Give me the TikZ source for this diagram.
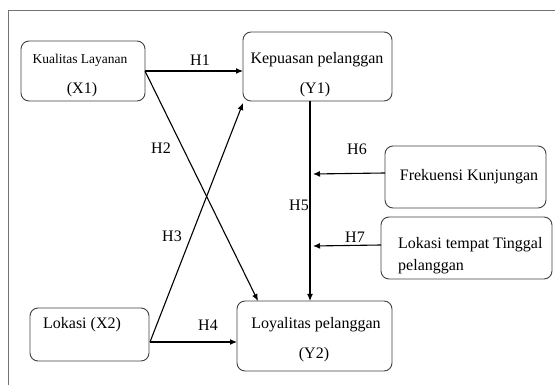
\documentclass[tikz,border=0pt]{standalone}
\usepackage{fontspec}
\setmainfont{Liberation Serif}
\usetikzlibrary{arrows.meta}
\begin{document}
\begin{tikzpicture}[x=1pt,y=-1pt,
  box/.style={draw=black!75,rounded corners=8pt,line width=0.9pt},
  lbl/.style={font=\fontsize{16}{18}\selectfont,inner sep=0pt},
  conn/.style={line width=1.1pt,-{Latex[length=7pt,width=6pt]}},
  hlab/.style={font=\fontsize{16}{18}\selectfont,inner sep=0pt}]
\useasboundingbox (0,0) rectangle (555,387);
\draw[black!55,line width=0.9pt] (555,10) -- (8.5,10) -- (8.5,385);
% boxes
\draw[box] (21,41) rectangle (145,101);
\node[inner sep=0pt,font=\fontsize{13.5}{15}\selectfont] (x1a) at (80,60) {Kualitas Layanan};
\node[lbl] (x1b) at (82,90) {(X1)};
\draw[box] (243,32) rectangle (392,101);
\node[lbl] (y1a) at (317,60) {Kepuasan pelanggan};
\node[lbl] (y1b) at (315,90) {(Y1)};
\draw[box] (385,146) rectangle (546,208);
\node[lbl] (fk) at (469,177) {Frekuensi Kunjungan};
\draw[box] (381,217) rectangle (552,279);
\node[lbl,anchor=west] (lt1) at (398,245) {Lokasi tempat Tinggal};
\node[lbl,anchor=west] (lt2) at (398,267) {pelanggan};
\draw[box] (30,308) rectangle (149,361);
\node[lbl] (x2) at (82,325) {Lokasi (X2)};
\draw[box] (237,301) rectangle (392,371);
\node[lbl] (y2a) at (316,325) {Loyalitas pelanggan};
\node[lbl] (y2b) at (314,355) {(Y2)};
% anchor coordinates
\coordinate (x1o) at (145,71);
\coordinate (y1in) at (243,71);
\coordinate (y2top) at (258,301);
\coordinate (x2o) at (150,342);
\coordinate (y1bot) at (243,103);
\coordinate (y2in) at (237,342);
\coordinate (y1b5) at (310,101);
\coordinate (y2t5) at (310,301);
\coordinate (fko) at (385,173);
\coordinate (h6e) at (313,174);
\coordinate (lto) at (381,245);
\coordinate (h7e) at (313,246);
% connectors
\draw[conn] (x1o) -- (y1in);
\draw[conn] (x1o) -- (y2top);
\draw[conn] (x2o) -- (y1bot);
\draw[conn] (x2o) -- (y2in);
\draw[conn] (y1b5) -- (y2t5);
\draw[conn] (fko) -- (h6e);
\draw[conn] (lto) -- (h7e);
% labels
\node[hlab] (h1) at (200,60) {H1};
\node[hlab] (h2) at (161,148) {H2};
\node[hlab] (h3) at (172,236) {H3};
\node[hlab] (h4) at (208,325) {H4};
\node[hlab] (h5) at (299,205) {H5};
\node[hlab] (h6) at (357,149) {H6};
\node[hlab] (h7) at (355,237) {H7};
\end{tikzpicture}
\end{document}
